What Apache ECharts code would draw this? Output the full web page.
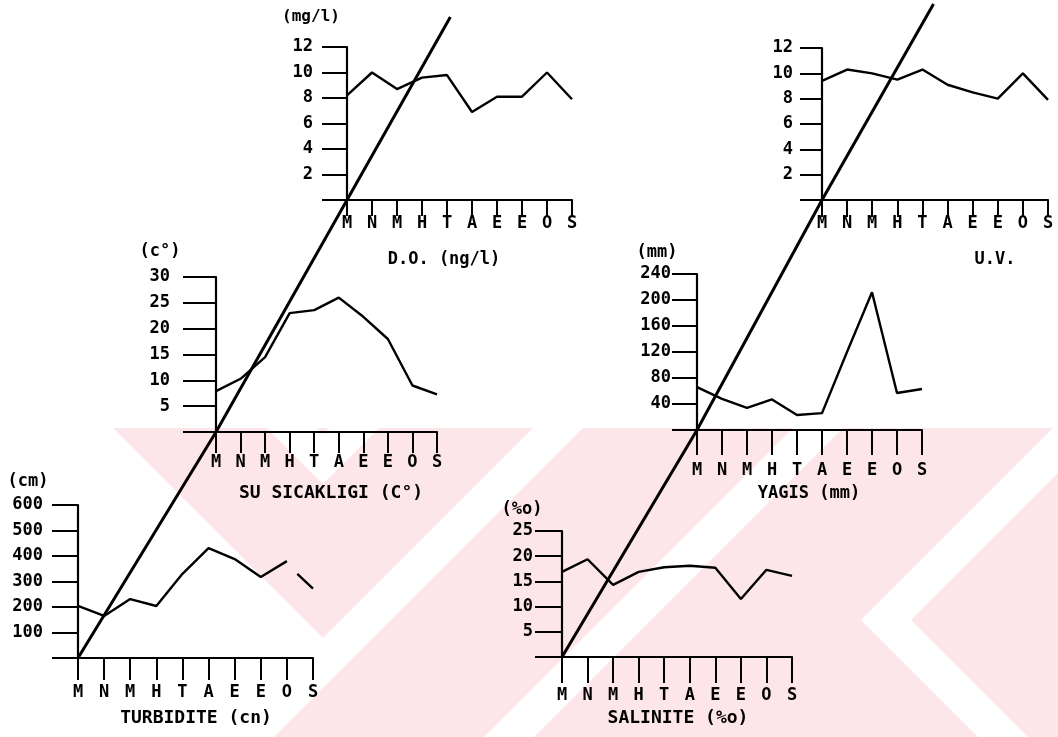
<!DOCTYPE html>
<html><head><meta charset="utf-8">
<script src="https://cdn.jsdelivr.net/npm/echarts@6/dist/echarts.min.js"></script>
<style>html,body{margin:0;padding:0;background:#fff}#c{width:1058px;height:737px}</style>
</head><body><div id="c"></div>
<script>
// ---- data ----
const months = ['M','N','M','H','T','A','E','E','O','S'];
const doValues   = [8.2, 10.0, 8.7, 9.6, 9.8, 6.9, 8.1, 8.1, 10.0, 7.9];
const uvValues   = [9.4, 10.3, 10.0, 9.5, 10.3, 9.1, 8.5, 8.0, 10.0, 7.9];
const tempValues = [7.9, 10.3, 14.5, 23.0, 23.6, 26.0, 22.3, 18.0, 9.0, 7.3];
const rainValues = [66, 48, 34, 47, 23, 26, 120, 212, 57, 63];
const turbValues = [204, 165, 231, 204, 330, 431, 388, 318, 380];
const turbTail   = [[8.4, 330], [9, 272]];
const salValues  = [16.9, 19.4, 14.3, 16.9, 17.8, 18.1, 17.7, 11.5, 17.3, 16.1];
const doTicks = [0, 12, 2], uvTicks = [0, 12, 2], tempTicks = [0, 30, 5],
      rainTicks = [0, 240, 40], turbTicks = [0, 600, 100], salTicks = [0, 25, 5];

const FONT = '"DejaVu Sans Mono","Liberation Mono",monospace';
const FS = 17;
const INK = '#000';

const panels = [
  {g:{left:347,top:47,width:225,height:153}, t:doTicks,   tickX:16, mX:15, tickY:25, mY:34},
  {g:{left:822,top:48,width:226,height:152}, t:uvTicks,   tickX:17, mX:15, tickY:22, mY:29},
  {g:{left:216,top:277,width:221,height:155},t:tempTicks, tickX:21, mX:22, tickY:33, mY:46},
  {g:{left:697,top:274,width:225,height:156},t:rainTicks, tickX:25, mX:32, tickY:25, mY:26},
  {g:{left:78,top:505,width:235,height:153}, t:turbTicks, tickX:22, mX:26, tickY:26, mY:35},
  {g:{left:562,top:531,width:230,height:126},t:salTicks,  tickX:26, mX:30, tickY:27, mY:29}
];
const seriesData = [
  [doValues.map((v,i)=>[i,v])],
  [uvValues.map((v,i)=>[i,v])],
  [tempValues.map((v,i)=>[i,v])],
  [rainValues.map((v,i)=>[i,v])],
  [turbValues.map((v,i)=>[i,v]), turbTail],
  [salValues.map((v,i)=>[i,v])]
];

const grid=[], xAxis=[], yAxis=[], series=[];
panels.forEach((p,i)=>{
  grid.push(Object.assign({containLabel:false}, p.g));
  xAxis.push({type:'value', gridIndex:i, min:0, max:months.length-1, interval:1,
    splitLine:{show:false},
    axisLine:{show:true, lineStyle:{color:INK, width:2.2}},
    axisTick:{show:true, length:p.tickX, lineStyle:{color:INK, width:2}},
    axisLabel:{margin:p.mX, color:INK, fontFamily:FONT, fontSize:FS, fontWeight:'bold',
      formatter:v=>months[v] || ''}});
  yAxis.push({type:'value', gridIndex:i, min:p.t[0], max:p.t[1], interval:p.t[2],
    splitLine:{show:false},
    axisLine:{show:true, lineStyle:{color:INK, width:2.2}},
    axisTick:{show:true, length:p.tickY, lineStyle:{color:INK, width:2}},
    axisLabel:{margin:p.mY, color:INK, fontFamily:FONT, fontSize:FS, fontWeight:'bold',
      formatter:v=> v===0 ? '' : String(v)}});
  seriesData[i].forEach(d=>series.push({type:'line', xAxisIndex:i, yAxisIndex:i,
    data:d, symbol:'none', smooth:false, z:5,
    lineStyle:{color:INK, width:2.4}}));
});

const chart = echarts.init(document.getElementById('c'));
chart.setOption({animation:false, backgroundColor:'#fff', grid, xAxis, yAxis, series});

function txt(s, x, y, size){
  return {type:'text', z:10, style:{text:s, x, y, fill:INK,
    font:'bold '+(size||FS)+'px '+FONT, textAlign:'center', textVerticalAlign:'middle',
    align:'center', verticalAlign:'middle'}};
}
const o = panels.map((p,i)=>chart.convertToPixel({gridIndex:i}, [0,0]));
function ext(a, b, yTop){ // extend a->b beyond b up to yTop
  const k = (b[1]-yTop)/(a[1]-b[1]);
  return [b[0]+(b[0]-a[0])*k, yTop];
}

// ---- background watermark: pale pink band with white diagonal stripes ----
const PINK = '#fde6ea', PAPER = '#fff';
const T = 428, B = 737;
function poly(pts){ return {type:'polygon', z:-90, silent:true, shape:{points:pts}, style:{fill:PAPER}}; }
const wm = [
  {type:'rect', z:-100, silent:true, shape:{x:0, y:T, width:1058, height:B-T}, style:{fill:PINK}},
  // white area on the left, bounded by a V edge and a "/" stripe
  poly([[0,T],[113,T],[323,638],[533,T],[583,T],[1011-B,B],[0,B]]),
  // small inner V stripe
  poly([[267,T],[317,T],[323,434],[329,T],[379,T],[323,484]]),
  // "/" stripe across the middle
  poly([[1221-T,T],[1271-T,T],[1271-B,B],[1221-B,B]]),
  // "<" chevron stripe on the right
  poly([[1481-T,T],[1531-T,T],[911,620],[291+B,B],[241+B,B],[861,620]])
];

const graphic = wm.concat([
  {type:'polyline', z:8, shape:{points:[o[4], o[2], o[0], ext(o[2], o[0], 17)]},
    style:{stroke:INK, lineWidth:3, fill:null}},
  {type:'polyline', z:8, shape:{points:[o[5], o[3], o[1], ext(o[5], o[1], 4)]},
    style:{stroke:INK, lineWidth:3, fill:null}},
  txt('(mg/l)', 311, 17, 16),
  txt('(c°)', 160, 252),
  txt('(mm)', 657, 253),
  txt('(cm)', 28, 482),
  txt('(%o)', 522, 510),
  txt('D.O. (ng/l)', 444, 260),
  txt('U.V.', 995, 260),
  txt('SU SICAKLIGI (C°)', 331, 493, 18),
  txt('YAGIS (mm)', 809, 494),
  txt('TURBIDITE (cn)', 196, 718, 18),
  txt('SALINITE (%o)', 678, 718, 18)
]);
chart.setOption({graphic});
</script></body></html>
